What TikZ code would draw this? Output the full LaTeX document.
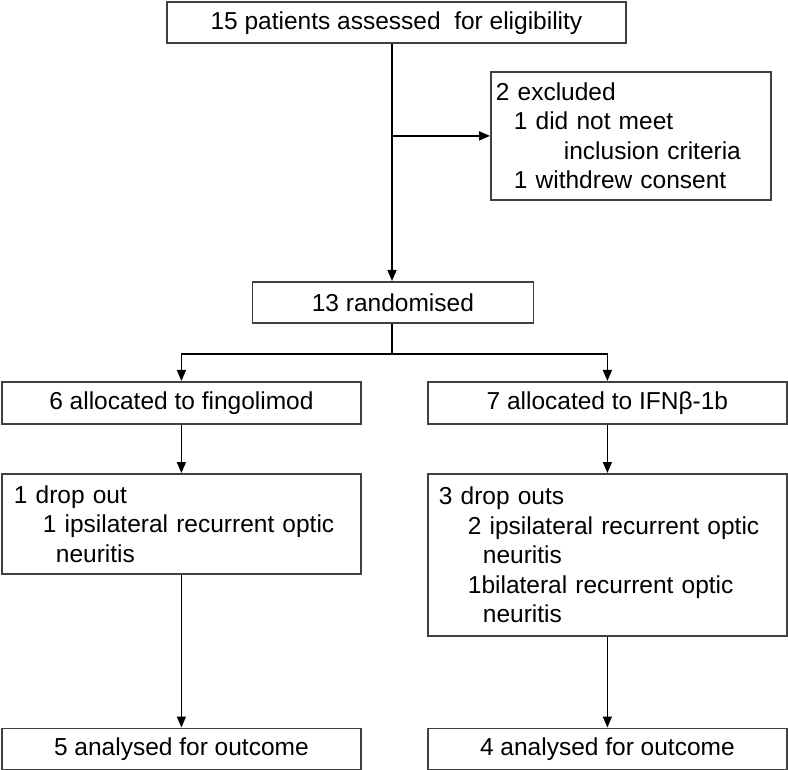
\documentclass[tikz,border=0pt]{standalone}
\usepackage{fontspec}
\setmainfont{Liberation Sans}
\usetikzlibrary{arrows.meta,calc}
\begin{document}
\begin{tikzpicture}[x=1pt,y=-1pt,
  box/.style={draw=black!75, line width=1.8pt, rectangle, inner sep=0pt,
    font=\fontsize{24.5}{29.5}\selectfont, anchor=north west},
  cbox/.style={box, align=center},
  lbox/.style={box, align=left},
  conn/.style={line width=1.6pt, draw=black},
  arr/.style={conn, -{Triangle[length=11pt,width=9pt]}}]
\useasboundingbox (0,0) rectangle (788,770);

\node[cbox, minimum width=459, minimum height=41] (top) at (166,1.5)
  {15 patients assessed\ \ for eligibility};
\node[lbox, minimum width=280, minimum height=128, text width=270, inner xsep=5] (excl) at (490,71)
  {2 excluded\\
   \hspace*{18pt}1 did not meet\\
   \hspace*{68pt}inclusion criteria\\
   \hspace*{18pt}1 withdrew consent};
\node[cbox, minimum width=281, minimum height=41] (rand) at (251.5,281)
  {13 randomised};
\node[cbox, minimum width=359, minimum height=42] (al) at (1,381)
  {6 allocated to fingolimod};
\node[cbox, minimum width=359, minimum height=42] (ar) at (427,381)
  {7 allocated to IFNβ-1b};
\node[lbox, minimum width=359, minimum height=100, text width=335, inner xsep=12] (dl) at (1,473)
  {1 drop out\\
   \hspace*{29pt}1 ipsilateral recurrent optic\\
   \hspace*{42pt}neuritis};
\node[lbox, minimum width=359, minimum height=162, text width=337, inner xsep=11] (dr) at (427,473)
  {3 drop outs\\
   \hspace*{29pt}2 ipsilateral recurrent optic\\
   \hspace*{44pt}neuritis\\
   \hspace*{29pt}1bilateral recurrent optic\\
   \hspace*{44pt}neuritis};
\node[cbox, minimum width=359, minimum height=41] (ol) at (1,727.5)
  {5 analysed for outcome};
\node[cbox, minimum width=359, minimum height=41] (or) at (427,727.5)
  {4 analysed for outcome};

\coordinate (vx) at (392,0);
\draw[arr] (top.south -| vx) -- (rand.north -| vx);
\draw[arr] (vx |- excl.west) -- (excl.west);
\draw[conn] (rand.south -| vx) -- ++(0,30) coordinate (br);
\draw[arr] (br) -| (al.north);
\draw[arr] (br) -| (ar.north);
\draw[arr] (al) -- (dl);
\draw[arr] (ar) -- (dr);
\draw[arr] (dl) -- (ol);
\draw[arr] (dr) -- (or);
\end{tikzpicture}
\end{document}
